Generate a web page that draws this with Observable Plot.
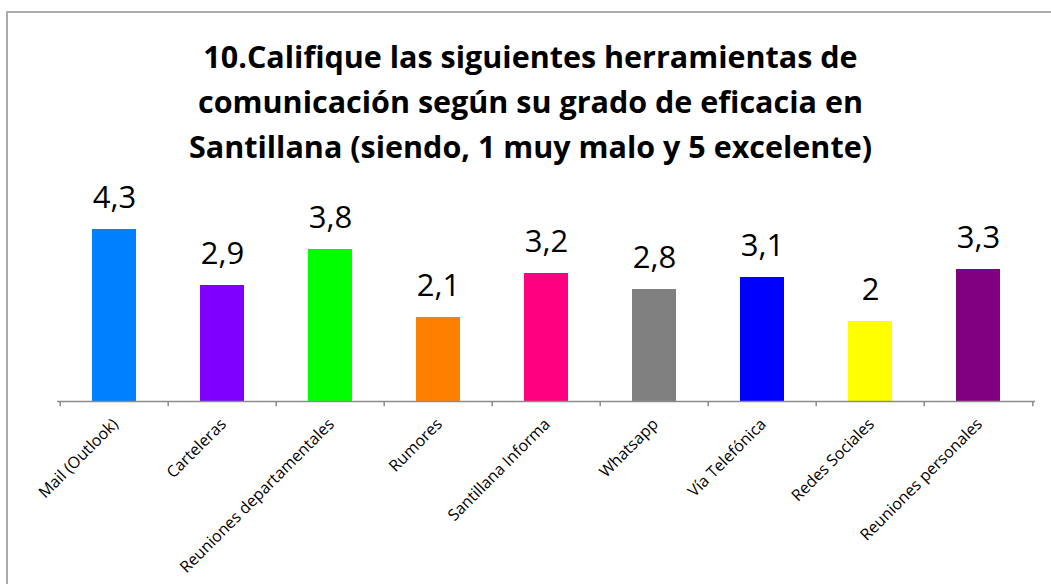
<!DOCTYPE html>
<html>
<head>
<meta charset="utf-8">
<script src="https://cdn.jsdelivr.net/npm/d3@7"></script>
<script src="https://cdn.jsdelivr.net/npm/@observablehq/plot@0.6"></script>
<style>
  html, body { margin: 0; padding: 0; background: #fff; }
  #wrap { position: relative; width: 1051px; height: 584px; overflow: hidden; background: #fff; }
  #frame { position: absolute; left: 6px; top: 11px; width: 1100px; height: 700px;
           border-left: 2px solid #ababab; border-top: 2px solid #ababab; }
  #title { position: absolute; left: 0; top: 34px; width: 1061px; text-align: center;
           font-family: 'Open Sans', sans-serif; font-weight: 700; font-size: 30.5px; line-height: 45px; color: #000; }
  #chart { position: absolute; left: 0; top: 0; }
</style>
</head>
<body>
<div id="wrap">
  <div id="frame"></div>
  <div id="title"></div>
  <div id="chart"></div>
</div>
<script>
const titleLines = [
  "10.Califique las siguientes herramientas de",
  "comunicación según su grado de eficacia en",
  "Santillana (siendo, 1 muy malo y 5 excelente)"
];
const categories = [
  "Mail (Outlook)", "Carteleras", "Reuniones departamentales", "Rumores",
  "Santillana Informa", "Whatsapp", "Vía Telefónica", "Redes Sociales", "Reuniones personales"
];
const values = [4.3, 2.9, 3.8, 2.1, 3.2, 2.8, 3.1, 2.0, 3.3];
const colors = ["#0080ff", "#8000ff", "#00ff00", "#ff8000", "#ff0080", "#808080", "#0000ff", "#ffff00", "#800080"];

const data = categories.map((c, i) => ({category: c, value: values[i], color: colors[i]}));
const fmt = v => String(v).replace(".", ",");

document.getElementById("title").innerHTML = titleLines.map(t => `<div>${t}</div>`).join("");

const W = 1051, H = 584, ML = 57, MR = 16;
const step = (W - ML - MR) / categories.length;
const FONT = "'Open Sans', sans-serif";

const chart = Plot.plot({
  width: W,
  height: H,
  marginLeft: ML,
  marginRight: MR,
  marginTop: 201,
  marginBottom: 183,
  style: {background: "transparent", fontFamily: FONT},
  x: {type: "band", domain: categories, paddingInner: 0.595, paddingOuter: 0.2975, axis: null},
  y: {domain: [0, 5], axis: null},
  color: {type: "identity"},
  marks: [
    Plot.barY(data, {x: "category", y: "value", fill: "color"}),
    Plot.ruleY([0], {stroke: "#8c8c8c", strokeWidth: 1.5}),
    Plot.ruleX(categories, {x: d => d, y1: 0, y2: -0.13, dx: -step / 2, stroke: "#8c8c8c", strokeWidth: 1.5}),
    Plot.ruleX(categories.slice(-1), {x: d => d, y1: 0, y2: -0.13, dx: step / 2, stroke: "#8c8c8c", strokeWidth: 1.5}),
    Plot.text(data, {x: "category", y: "value", text: d => fmt(d.value), lineAnchor: "bottom",
      dy: -22, fontSize: 31, fontFamily: FONT, fill: "#000"}),
    Plot.text(categories, {x: d => d, y: 0, text: d => d, rotate: -45, textAnchor: "end",
      dx: 1, dy: 20, fontSize: 16, fontFamily: FONT, fill: "#000"})
  ]
});
document.getElementById("chart").appendChild(chart);
</script>
</body>
</html>
